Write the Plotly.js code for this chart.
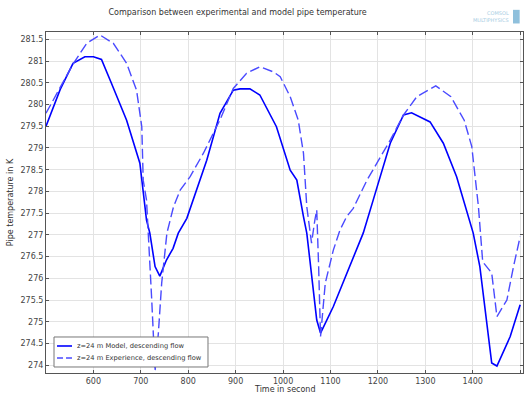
<!DOCTYPE html>
<html><head><meta charset="utf-8">
<script src="https://cdn.plot.ly/plotly-3.0.1.min.js"></script>
<style>body{margin:0;background:#fff}#c{width:528px;height:393px}</style>
</head><body><div id="c"></div>
<script>
const modelTime = [500,530,557,582,600,617,638,670,698,712,719,730,740,754,768,779,797,818,839,867,895,909,930,951,986,1015,1029,1043,1050,1071,1079,1106,1141,1169,1190,1226,1254,1271,1310,1338,1366,1394,1401,1415,1440,1451,1479,1500];
const modelTemp = [279.5,280.35,280.95,281.1,281.1,281.04,280.49,279.64,278.65,277.34,277.04,276.27,276.05,276.42,276.69,277.04,277.38,278.03,278.72,279.8,280.33,280.36,280.36,280.22,279.49,278.49,278.26,277.42,277.04,275.04,274.74,275.35,276.27,277.04,277.8,279.11,279.76,279.81,279.6,279.11,278.34,277.34,277.04,276.27,274.05,273.98,274.66,275.39];
const expTime = [500,530,558,586,614,642,670,691,702,705,712,723,730,737,744,755,769,783,804,832,867,895,923,951,980,994,1015,1032,1043,1050,1060,1067,1071,1075,1079,1089,1106,1120,1134,1148,1177,1226,1254,1282,1322,1354,1382,1398,1412,1421,1440,1451,1472,1486,1500];
const expTemp = [279.8,280.41,280.95,281.41,281.6,281.41,280.95,280.33,279.49,278.26,277.8,275.5,273.86,274.74,275.89,277.04,277.65,278.03,278.34,278.88,279.65,280.37,280.72,280.87,280.75,280.64,280.18,279.64,278.88,277.65,276.81,277.34,277.57,276.27,274.66,275.89,276.65,277.11,277.42,277.61,278.26,279.18,279.76,280.18,280.43,280.18,279.64,279.03,277.65,276.38,276.12,275.12,275.5,276.27,276.96];
const yTicks = [274,274.5,275,275.5,276,276.5,277,277.5,278,278.5,279,279.5,280,280.5,281,281.5];
const xTicks = [600,700,800,900,1000,1100,1200,1300,1400,1500];
const seriesNames = ['z=24 m Model, descending flow','z=24 m Experience, descending flow'];
const seriesColors = ['#0000ff','#4a4aff'];
const seriesDash = ['solid','10px,4px'];
const seriesWidth = [1.6,1.4];

const traces = [
 {x:modelTime, y:modelTemp, type:'scatter', mode:'lines', name:seriesNames[0], showlegend:false,
  line:{color:seriesColors[0], width:seriesWidth[0], dash:seriesDash[0]}},
 {x:expTime, y:expTemp, type:'scatter', mode:'lines', name:seriesNames[1], showlegend:false,
  line:{color:seriesColors[1], width:seriesWidth[1], dash:seriesDash[1]}}
];
const axisCommon = {showline:true, linecolor:'#555', linewidth:1, mirror:'ticks', ticks:'inside', ticklen:3,
  tickcolor:'#555', gridcolor:'#e3e3e3', zeroline:false, tickfont:{family:'DejaVu Sans', size:8, color:'#444'}};
const txtFont = {family:'DejaVu Sans', size:8, color:'#333'};

// legend built from the series names / styles
const legY = [0.0792, 0.044];
const shapes = [{type:'rect', xref:'paper', yref:'paper', x0:0.0168, x1:0.3396, y0:0.0176, y1:0.1056,
  fillcolor:'#fff', line:{color:'#777', width:1}, layer:'above'}];
const annotations = [];
seriesNames.forEach((n,i)=>{
  shapes.push({type:'line', xref:'paper', yref:'paper', x0:0.0231, x1:0.0545, y0:legY[i], y1:legY[i],
    line:{color:seriesColors[i], width:seriesWidth[i], dash:i===1?'6px,3px':'solid'}, layer:'above'});
  annotations.push({text:n, xref:'paper', yref:'paper', x:0.0608, y:legY[i], xanchor:'left', yanchor:'middle',
    showarrow:false, font:{family:'DejaVu Sans', size:6.7, color:'#333'}});
});
annotations.push({text:'Time in second', xref:'paper', yref:'paper', x:0.5, y:-0.047, xanchor:'center', yanchor:'middle',
  showarrow:false, font:txtFont});
annotations.push({text:'COMSOL<br>MULTIPHYSICS', xref:'paper', yref:'paper', x:0.975, y:1.045, xanchor:'right', yanchor:'middle',
  showarrow:false, align:'right', font:{family:'DejaVu Sans', size:5, color:'#a8cde3'}});
shapes.push({type:'rect', xref:'paper', yref:'paper', x0:0.979, x1:0.993, y0:1.025, y1:1.065,
  fillcolor:'#8fc0dc', line:{width:0}});

const layout = {
 width:528, height:393, margin:{l:46,r:5,t:32,b:20},
 paper_bgcolor:'#fff', plot_bgcolor:'#fff',
 title:{text:'Comparison between experimental and model pipe temperature', x:0.45, xanchor:'center', y:0.975, yanchor:'top',
   font:txtFont},
 xaxis:Object.assign({}, axisCommon, {range:[500,1506], tickvals:xTicks, ticktext:xTicks.map(String)}),
 yaxis:Object.assign({}, axisCommon, {range:[273.82,281.67], tickvals:yTicks, ticktext:yTicks.map(String),
   title:{text:'Pipe temperature in K', font:txtFont, standoff:5}}),
 showlegend:false,
 shapes:shapes, annotations:annotations
};
Plotly.newPlot('c', traces, layout, {displayModeBar:false, staticPlot:true});
</script></body></html>
